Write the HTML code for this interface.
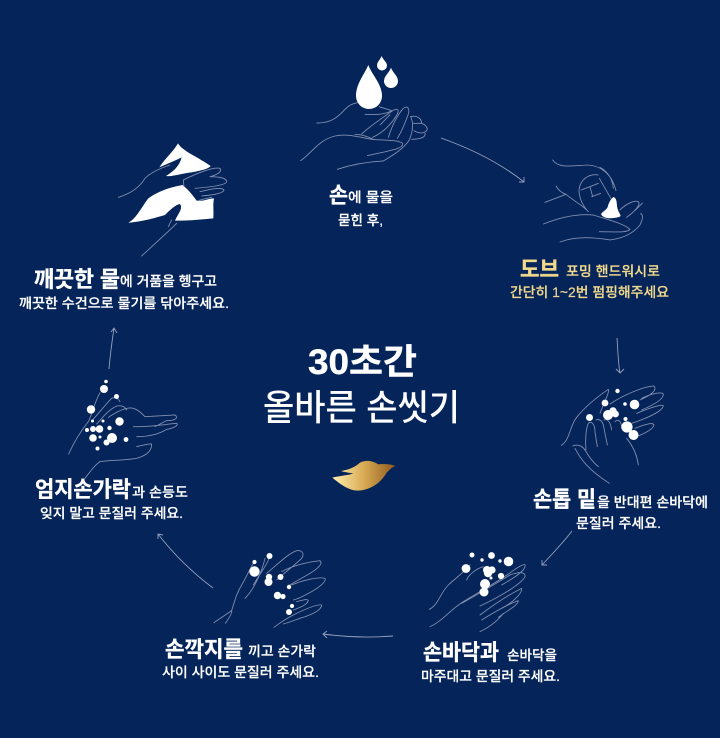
<!DOCTYPE html>
<html lang="ko"><head><meta charset="utf-8"><style>
html,body{margin:0;padding:0;background:#04245a}
svg{display:block}
text{font-family:"Liberation Sans","Noto Sans CJK KR",sans-serif;fill:#fff;font-size:13.500px}
.b{font-weight:700;font-size:22px;stroke:#fff;stroke-width:.35}
.m{font-weight:500;stroke:#fff;stroke-width:.2}
.g{fill:#f0d88c;stroke:#f0d88c}
.h path{fill:none;stroke:#8390b0;stroke-width:2.600;stroke-linecap:round;stroke-linejoin:round}
.a path{fill:none;stroke:#97a2bd;stroke-width:.9}
</style></head><body>
<svg width="720" height="738" viewBox="0 0 720 738" xmlns="http://www.w3.org/2000/svg">
<defs><linearGradient id="gd" x1="0" x2="1" y1="0" y2="0"><stop offset="0" stop-color="#fff0b0"/><stop offset=".5" stop-color="#d9ab55"/><stop offset="1" stop-color="#8f5a1c"/></linearGradient></defs>
<rect width="720" height="738" fill="#04245a"/>

<!-- arrows -->
<g class="a">
<path d="M441 138C472 149 500 163 524 182M524 177L524 182L519 182"/>
<path d="M617 338C618 351 618 362 620 373M616 369L620 373L624 369"/>
<path d="M572 531C562 544 552 554 542 565M542 560L542 565L547 565"/>
<path d="M393 636C368 638 345 637 323 634M327 631L323 634L327 638"/>
<path d="M213 588C193 573 175 556 158 534M158 539L158 534L163 535"/>
<path d="M109 369C110 355 112 342 114 328M111 332L114 328L117 333"/>
</g>

<!-- step 1 -->
<g fill="#fff">
<path d="M368.300 65C372 75 382 84 382 96A13 13 0 0 1 356 96C356 84 364 75 368.300 65Z"/>
<path d="M381.700 56C383 60 387 62 387 65.500A5 5 0 0 1 377 65.500C377 62 380 60 381.700 56Z"/>
<path d="M391 67.700C393 73 398 76 398 81A7 7 0 0 1 384 81C384 76 389 73 391 67.700Z"/>
</g>
<g class="h" transform="translate(280 40) scale(.3333)">
<path d="M110 249C150 250 172 234 195 208C208 194 220 190 232 188"/>
<path d="M298 200C312 205 325 208 335 212C320 222 290 225 255 223M330 224L300 255"/>
<path d="M62 362C95 340 115 300 165 288C195 281 225 288 275 298C315 302 350 298 368 310C372 325 340 330 262 347"/>
<path d="M172 388C220 372 270 365 310 363C340 345 372 325 388 300C398 275 402 250 392 230"/>
<path d="M245 282C270 258 310 232 338 212C352 204 358 208 352 222C338 248 310 278 278 292"/>
<path d="M325 292C335 260 352 225 370 205C382 196 390 205 385 222C375 250 365 275 352 295"/>
<path d="M225 284C240 282 260 288 280 298"/>
<path d="M392 230C410 225 425 235 425 250C438 255 445 265 440 272C430 282 415 280 402 272M435 280C438 292 420 298 395 298M400 250L425 250"/>
</g>
<text class="b" x="329" y="203" textLength="19" lengthAdjust="spacingAndGlyphs">손</text>
<text class="m" x="348" y="202" textLength="45" lengthAdjust="spacingAndGlyphs">에 물을</text>
<text class="m" x="338" y="225" textLength="45" lengthAdjust="spacingAndGlyphs">묻힌 후,</text>

<!-- step 2 -->
<g class="h" transform="translate(480 130) scale(.3333)">
<path d="M218 90C235 115 270 108 320 105C360 105 395 130 408 182M360 112C385 125 398 150 400 175"/>
<path d="M355 135C325 130 300 150 297 180C297 205 310 230 325 245M330 170L355 160M335 200L362 190M303 180L330 170L338 200M358 145C375 175 390 200 398 215"/>
<path d="M195 217L258 193C285 215 305 225 320 240M228 168C238 185 248 190 258 193"/>
<path d="M190 282C240 262 290 250 340 255C380 268 430 280 450 298C440 310 400 305 358 305"/>
<path d="M240 336C290 318 340 322 390 330C430 325 460 310 480 285C490 265 490 255 482 250"/>
<path d="M420 240C440 220 465 210 475 215C482 222 470 240 440 262C470 240 490 215 487 220"/>
</g>
<path d="M613.500 197C618 199 616 205 618 210C620 215 622 216 619 217C612 219 603 219 601 214C603 211 607 210 608 206C609 202 611 199 613.500 197Z" fill="#fff"/>
<text class="b g" x="520" y="277" textLength="39" lengthAdjust="spacingAndGlyphs">도브</text>
<text class="m g" x="566" y="276" textLength="94" lengthAdjust="spacingAndGlyphs">포밍 핸드워시로</text>
<text class="m g" x="510" y="297" textLength="159" lengthAdjust="spacingAndGlyphs">간단히 1~2번 펌핑해주세요</text>

<!-- step 3 -->
<g class="h" transform="translate(520 330) scale(.3333)">
<path d="M124 346C150 330 148 290 170 262C200 225 240 195 265 178C268 190 255 210 240 250"/>
<path d="M270 222C310 195 370 170 402 168C412 180 395 195 360 210M365 205C395 190 425 185 430 192C432 208 400 225 365 240M350 250C385 235 430 220 430 228C425 245 380 265 335 280M345 295C370 285 400 275 402 285C400 298 375 310 350 320"/>
<path d="M198 360C195 330 198 295 205 280C215 270 225 285 225 305L232 350M228 270C240 265 250 275 252 295L262 345M252 270C265 265 272 280 275 300M285 275C295 265 305 275 305 295"/>
<path d="M320 325C340 350 352 380 355 405"/>
<path d="M158 348C175 340 190 350 198 365C210 385 222 400 235 410M165 355C180 385 205 420 268 460"/>
</g>
<g fill="#fff">
<circle cx="617.500" cy="391" r="2.200"/><circle cx="605" cy="403" r="3.400"/><circle cx="634.500" cy="404.500" r="4.800"/><circle cx="625" cy="404" r="1.800"/>
<circle cx="589.500" cy="417.500" r="3.500"/><circle cx="608" cy="415" r="5"/><circle cx="613" cy="411" r="3.700"/><circle cx="615.500" cy="414" r="3.400"/>
<circle cx="625.500" cy="419" r="2"/><circle cx="627" cy="427" r="5.600"/><circle cx="633.500" cy="435" r="5"/>
</g>
<text class="b" x="533" y="507" textLength="63" lengthAdjust="spacingAndGlyphs">손톱 밑</text>
<text class="m" x="597" y="507" textLength="111" lengthAdjust="spacingAndGlyphs">을 반대편 손바닥에</text>
<text class="m" x="576" y="528" textLength="85" lengthAdjust="spacingAndGlyphs">문질러 주세요.</text>

<!-- step 4 -->
<g class="h" transform="translate(370 530) scale(.3333)">
<path d="M178 238C205 225 210 190 235 165C255 145 280 130 300 105"/>
<path d="M180 290C215 275 240 240 280 215C320 190 385 155 425 125C445 110 465 100 465 105C470 120 430 145 395 165"/>
<path d="M275 220C320 195 370 165 420 135C445 125 468 125 465 140C455 160 400 195 330 228"/>
<path d="M330 255C370 225 415 195 455 175C458 190 425 220 395 235"/>
<path d="M335 270C375 245 420 220 445 212C445 225 415 240 385 262M330 305C360 290 385 270 400 250"/>
<path d="M290 150C295 135 320 115 340 110"/>
</g>
<g fill="#fff">
<circle cx="472" cy="555" r="2.500"/><circle cx="491.500" cy="555.500" r="3.400"/><circle cx="508.500" cy="561.500" r="4.800"/><circle cx="482" cy="560" r="1.700"/><circle cx="500" cy="561" r="1.700"/>
<circle cx="466" cy="568.500" r="4.400"/><circle cx="487" cy="570" r="4"/><circle cx="488" cy="573" r="4.200"/><circle cx="492" cy="570" r="3.600"/><circle cx="501" cy="576" r="3.100"/><circle cx="491" cy="578" r="1.500"/>
<circle cx="485" cy="584" r="5"/><circle cx="484" cy="592" r="4.500"/>
</g>
<text class="b" x="423" y="660" textLength="76" lengthAdjust="spacingAndGlyphs">손바닥과</text>
<text class="m" x="507" y="660" textLength="50" lengthAdjust="spacingAndGlyphs">손바닥을</text>
<text class="m" x="421" y="681" textLength="139" lengthAdjust="spacingAndGlyphs">마주대고 문질러 주세요.</text>

<!-- step 5 -->
<g class="h" transform="translate(150 530) scale(.3333)">
<path d="M192 278L245 242C255 210 260 190 275 165C290 140 300 115 310 100M226 280C240 260 248 245 245 240"/>
<path d="M285 205C310 180 335 130 345 85M310 165C330 130 355 100 358 80"/>
<path d="M350 130C380 105 415 70 440 62C455 60 465 70 455 85C430 110 400 130 380 150"/>
<path d="M395 125C430 105 480 95 510 92C520 100 505 115 480 130C455 145 435 155 420 165"/>
<path d="M425 165C460 150 505 140 525 145C530 155 510 170 485 185C465 195 450 205 430 210"/>
<path d="M440 215C460 210 472 205 475 212C470 225 455 230 430 240"/>
<path d="M372 292C395 275 410 265 430 255C460 240 500 222 515 225C515 240 485 255 450 265C430 272 415 278 400 282"/>
</g>
<g fill="#fff">
<circle cx="269.500" cy="556" r="3"/><circle cx="254.500" cy="562" r="2.100"/><circle cx="254.500" cy="571.500" r="5.200"/><circle cx="269" cy="577" r="3.200"/><circle cx="268.500" cy="582" r="4"/>
<circle cx="280.500" cy="577" r="3"/><circle cx="289" cy="587" r="2.200"/><circle cx="277.500" cy="595.500" r="3.700"/><circle cx="283" cy="596.500" r="2.600"/><circle cx="292" cy="606" r="2.100"/><circle cx="289" cy="612" r="3"/>
</g>
<text class="b" x="165" y="657" textLength="78" lengthAdjust="spacingAndGlyphs">손깍지를</text>
<text class="m" x="248" y="656" textLength="68" lengthAdjust="spacingAndGlyphs">끼고 손가락</text>
<text class="m" x="162" y="677" textLength="157" lengthAdjust="spacingAndGlyphs">사이 사이도 문질러 주세요.</text>

<!-- step 6 -->
<g class="h" transform="translate(20 330) scale(.3333)">
<path d="M146 372C165 330 185 300 205 275C218 250 222 220 240 188"/>
<path d="M218 270C240 245 260 220 275 205C285 200 295 205 300 215M230 282C250 260 265 240 290 228C310 225 315 232 320 240"/>
<path d="M265 262C290 245 320 230 340 235C355 240 365 250 375 260L465 255C475 262 470 272 440 272L405 290M340 290C380 292 420 285 470 280C478 285 460 295 440 298C420 310 390 320 350 320M350 350C370 345 385 342 395 342"/>
<path d="M395 342C395 360 385 375 350 385C310 392 270 390 240 395C225 405 210 425 195 445"/>
</g>
<g fill="#fff">
<circle cx="106" cy="381.500" r="1.800"/><circle cx="104" cy="389" r="4"/><circle cx="116.500" cy="396.500" r="2.500"/><circle cx="91" cy="409.500" r="4.200"/>
<circle cx="92.500" cy="421" r="1.500"/><circle cx="103" cy="421" r="1.500"/><circle cx="119.500" cy="421.500" r="4.200"/><circle cx="87" cy="430" r="2"/><circle cx="93" cy="429" r="3"/><circle cx="99.500" cy="429" r="3.800"/><circle cx="109.500" cy="428" r="2.200"/><circle cx="100" cy="437" r="1.500"/>
<circle cx="93" cy="438" r="3.800"/><circle cx="112" cy="438" r="5"/><circle cx="106.500" cy="442.500" r="3"/><circle cx="126" cy="439.500" r="2.400"/><circle cx="97.500" cy="448.500" r="2"/>
</g>
<text class="b" x="35" y="497" textLength="96" lengthAdjust="spacingAndGlyphs">엄지손가락</text>
<text class="m" x="132" y="497" textLength="56" lengthAdjust="spacingAndGlyphs">과 손등도</text>
<text class="m" x="40" y="518" textLength="143" lengthAdjust="spacingAndGlyphs">잊지 말고 문질러 주세요.</text>

<!-- step 7 -->
<g transform="translate(0 130) scale(.3333)">
<path d="M534 40C550 65 590 78 632 108C625 118 590 125 555 130C530 135 510 140 498 138C518 125 538 110 545 82C530 90 505 100 478 112C495 85 520 65 534 40Z" fill="#fff"/>
<path d="M385 278C410 265 425 230 445 205C480 180 520 170 548 165C560 175 575 190 590 212C610 215 625 205 642 205C638 225 642 240 640 265C610 268 570 272 525 272C535 250 550 235 540 222C525 225 510 240 495 255C470 262 430 275 385 278Z" fill="#fff"/>
<g class="h">
<path d="M355 202C395 190 420 170 435 145C450 130 480 115 510 105"/>
<path d="M550 150C590 130 640 110 660 115C668 125 650 135 630 140C660 140 680 145 680 155C678 165 640 170 585 175M600 185C630 178 665 170 672 180C670 190 640 195 605 198M595 212C615 205 625 205 635 202"/>
<path d="M550 150L552 170M425 378C460 345 500 310 530 280M505 290L515 270"/>
</g>
</g>
<text class="b" x="34" y="287" textLength="86" lengthAdjust="spacingAndGlyphs">깨끗한 물</text>
<text class="m" x="120" y="286" textLength="97" lengthAdjust="spacingAndGlyphs">에 거품을 헹구고</text>
<text class="m" x="19" y="308" textLength="210" lengthAdjust="spacingAndGlyphs">깨끗한 수건으로 물기를 닦아주세요.</text>

<!-- center -->
<text x="308" y="374" textLength="109" lengthAdjust="spacingAndGlyphs" style="font-size:35px;font-weight:700;stroke:#fff;stroke-width:.4">30초간</text>
<text x="263" y="420" textLength="197" lengthAdjust="spacingAndGlyphs" style="font-size:36px;font-weight:500">올바른 손씻기</text>
<path transform="translate(240 330) scale(.3333)" d="M277 443C305 436 325 436 340 430C325 428 312 426 303 423C325 420 345 412 360 398C375 390 395 390 415 403C430 402 455 402 466 408C455 412 450 418 440 428C425 455 395 480 355 482C325 482 300 462 277 443Z" fill="url(#gd)"/>
</svg>
</body></html>
